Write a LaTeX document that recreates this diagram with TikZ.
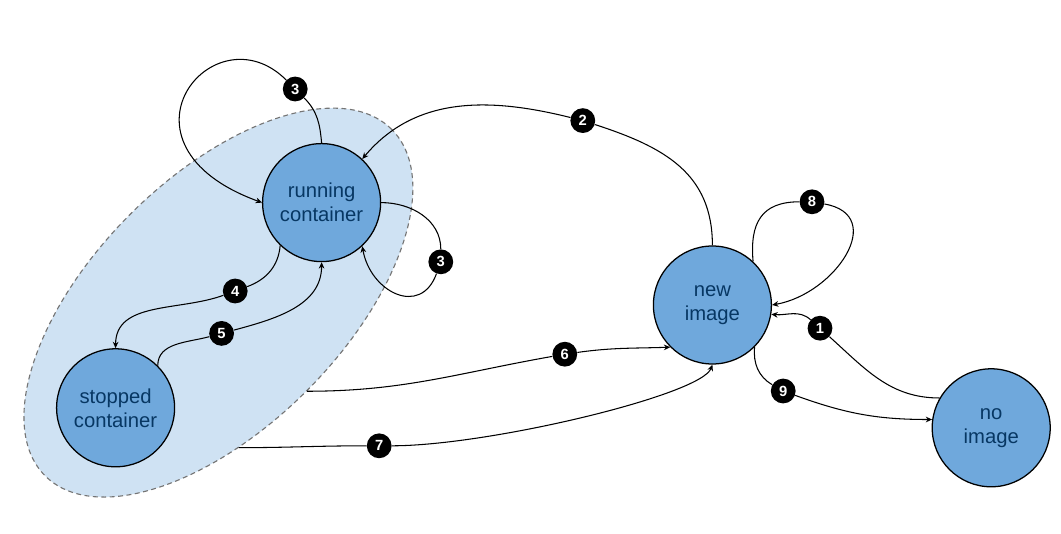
\documentclass[tikz,border=0pt]{standalone}
\usepackage{fontspec}
\setmainfont{Liberation Sans}
\usetikzlibrary{arrows.meta,shapes.geometric}
\definecolor{ctblue}{HTML}{6FA8DC}
\definecolor{ctpale}{HTML}{CFE2F3}
\definecolor{cttext}{HTML}{073763}
\definecolor{ctgrey}{HTML}{757575}
\tikzset{
  ctstate/.style={
    circle, draw=black, fill=ctblue, line width=0.9pt,
    minimum size=2.95cm, inner sep=0pt, align=center,
    text=cttext, font=\fontsize{14.4}{17.1}\selectfont
  },
  ctgroup/.style={
    ellipse, draw=ctgrey, fill=ctpale, line width=0.8pt,
    dash pattern=on 3.5pt off 2.5pt, inner sep=0pt,
    minimum width=12.25cm, minimum height=6.24cm, rotate=45
  },
  ctbadge/.style={
    circle, fill=black, minimum size=0.62cm, inner sep=0pt,
    text=white, font=\fontsize{10.5}{12}\selectfont\bfseries
  },
  ctedge/.style={-{Stealth[length=4.5pt,width=4pt,inset=1.4pt]},line width=0.75pt}
}

\begin{document}
\begin{tikzpicture}[x=1cm,y=1cm]
\useasboundingbox (0,0) rectangle (26.525,13.325);
% container states inside the shaded group
\node[ctgroup] (grp) at (5.46,5.76) {};
\node[ctstate] (run) at (8.04,8.26) {running\\container};
\node[ctstate] (stop) at (2.89,3.13) {stopped\\container};
\node[ctstate] (new) at (17.81,5.70) {new\\image};
\node[ctstate] (noimg) at (24.78,2.63) {no\\image};

% numbered transitions
\node[ctbadge] (b1) at (20.50,5.12) {1};
\node[ctbadge] (b2) at (14.57,10.31) {2};
\node[ctbadge] (b3a) at (7.38,11.10) {3};
\node[ctbadge] (b3b) at (11.02,6.78) {3};
\node[ctbadge] (b4) at (5.88,6.05) {4};
\node[ctbadge] (b5) at (5.54,4.99) {5};
\node[ctbadge] (b6) at (14.12,4.47) {6};
\node[ctbadge] (b7) at (9.48,2.18) {7};
\node[ctbadge] (b8) at (20.30,8.28) {8};
\node[ctbadge] (b9) at (19.58,3.55) {9};

\draw[ctedge] (run.-134) to[out=-95,in=20] (b4) to[out=200,in=90] (stop.north);
\draw[ctedge] (stop.45) to[out=90,in=195] (b5) to[out=15,in=-90] (run.south);
\draw[ctedge] (run.north) to[out=95,in=-45] (b3a) to[out=135,in=160,out looseness=2.1,in looseness=3.5] (run.west);
\draw[ctedge] (run.east) to[out=0,in=90] (b3b) to[out=250,in=-80,looseness=1.5] (run.-47);
\draw[ctedge] (new.north) to[out=90,in=-18,looseness=1.1] (b2) to[out=166,in=50] (run.47);
% from the group to the new image
\draw[ctedge] (grp.south) to[out=0,in=190] (b6) to[out=8,in=182] (new.-135);
\draw[ctedge] (grp.233) to[out=0,in=180] (b7) to[out=0,in=-110,out looseness=0.75,in looseness=0.25] (new.south);
\draw[ctedge] (new.47) to[out=95,in=180,looseness=1.3] (b8) to[out=-10,in=10,looseness=1.45] (new.east);
\draw[ctedge] (noimg.150) to[out=180,in=-42] (b1) to[out=138,in=-5] (new.-9);
\draw[ctedge] (new.-45) to[out=-95,in=150] (b9) to[out=-20,in=180] (noimg.172);
\end{tikzpicture}
\end{document}
